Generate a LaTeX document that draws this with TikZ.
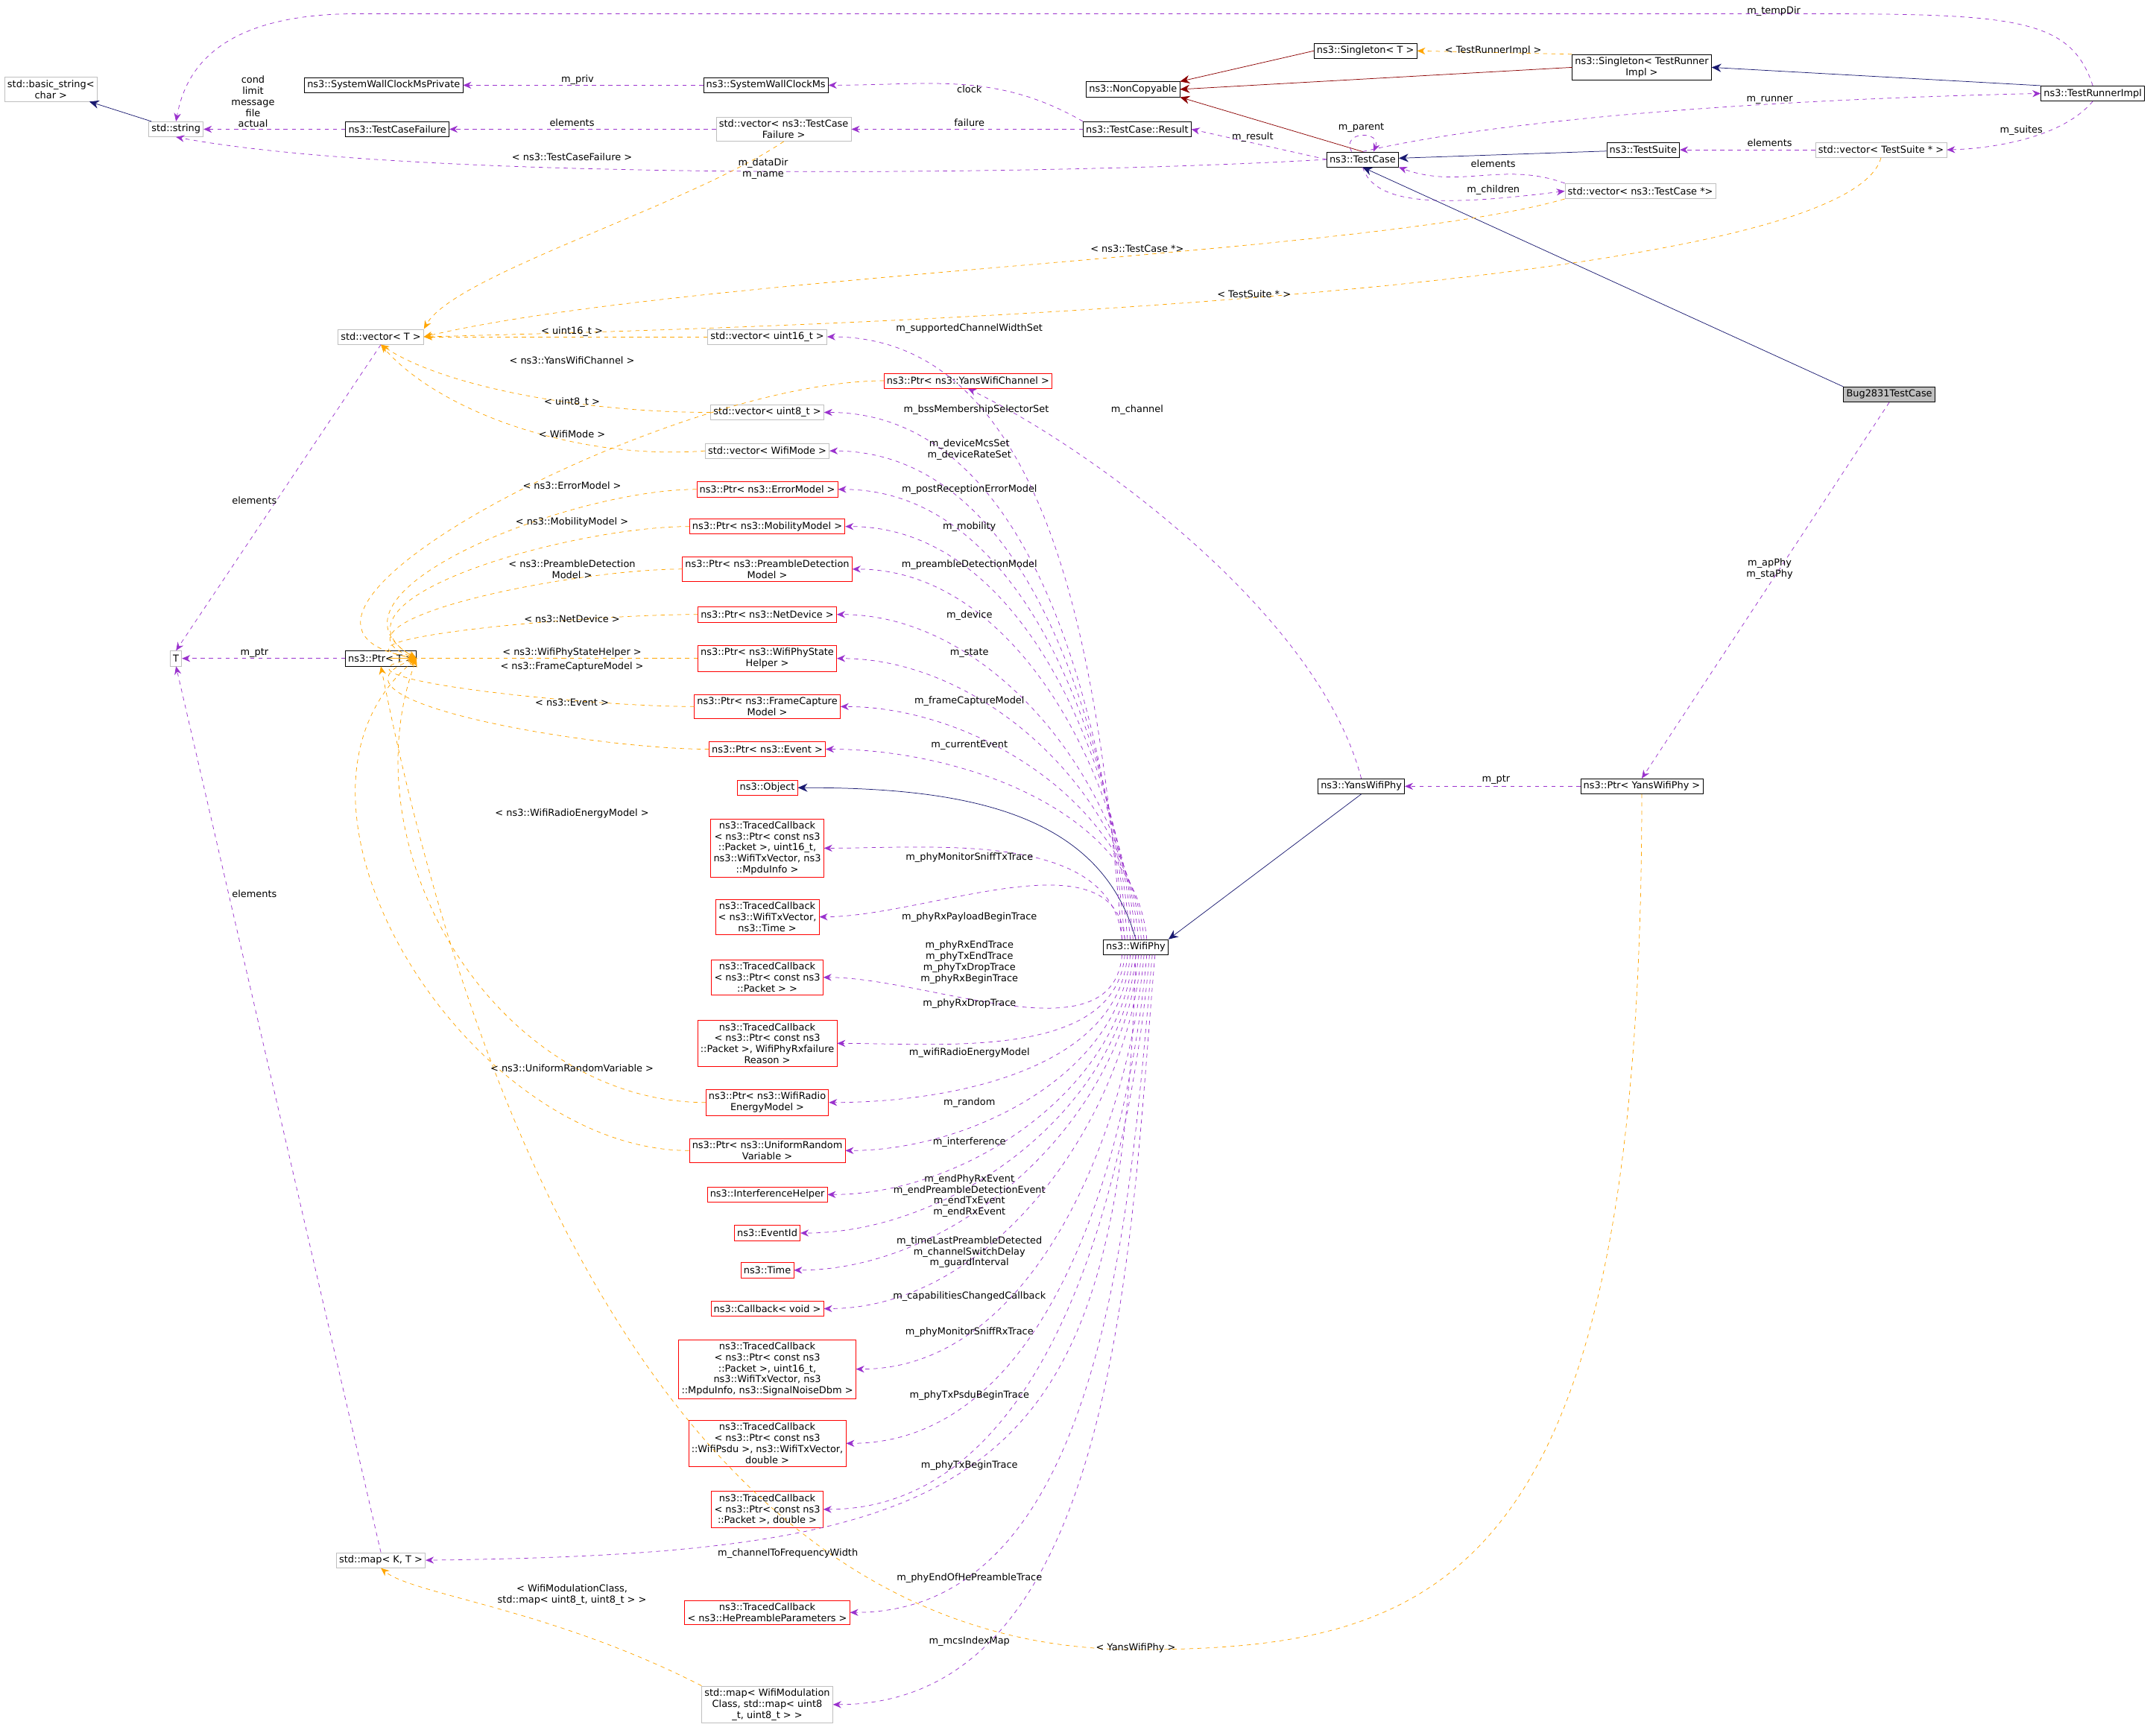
\documentclass[tikz,border=0pt]{standalone}
\usepackage{fontspec}
\setmainfont{DejaVu Sans}
\usetikzlibrary{arrows.meta}
\definecolor{pur}{HTML}{9A32CD}
\definecolor{org}{HTML}{FFA500}
\definecolor{mb}{HTML}{191970}
\definecolor{dr}{HTML}{8B0000}
\definecolor{gb}{HTML}{BFBFBF}
\begin{document}
\begin{tikzpicture}[x=1pt,y=-1pt,
  every node/.style={font=\fontsize{7}{8}\selectfont},
  bx/.style={draw=black,inner sep=2pt,minimum height=11pt,align=center,fill=white},
  gx/.style={bx,draw=gb},
  rx/.style={bx,draw=red},
  lb/.style={inner sep=0.5pt,align=center},
  usage/.style={draw=pur,dashed,-{Stealth[length=6pt,width=5pt]}},
  tmpl/.style={draw=org,dashed,-{Stealth[length=6pt,width=5pt]}},
  inh/.style={draw=mb,-{Stealth[length=7pt,width=6pt]}},
  priv/.style={draw=dr,-{Stealth[length=7pt,width=6pt]}}]
\useasboundingbox (0,0) rectangle (1568,1258);
% nodes
\node[gx] (bs) at (37,65) {std::basic\_string<\\ char >};
\node[gx] (str) at (128,94) {std::string};
\node[bx] (swp) at (279,62) {ns3::SystemWallClockMsPrivate};
\node[bx] (tcf) at (289,94) {ns3::TestCaseFailure};
\node[bx] (swc) at (557,62) {ns3::SystemWallClockMs};
\node[gx] (vtcf) at (570,94) {std::vector< ns3::TestCase\\ Failure >};
\node[bx] (nc) at (824,65) {ns3::NonCopyable};
\node[bx] (sgt) at (993,37) {ns3::Singleton< T >};
\node[bx] (sgr) at (1194,49) {ns3::Singleton< TestRunner\\ Impl >};
\node[bx] (tri) at (1522,68) {ns3::TestRunnerImpl};
\node[bx] (res) at (827,94) {ns3::TestCase::Result};
\node[bx] (tc) at (991,116) {ns3::TestCase};
\node[bx] (ts) at (1195,109) {ns3::TestSuite};
\node[gx] (vts) at (1368,109) {std::vector< TestSuite * >};
\node[gx] (vtc) at (1193,139) {std::vector< ns3::TestCase *>};
\node[bx,fill=gb] (bug) at (1374,287) {Bug2831TestCase};
\node[gx] (vT) at (277,245) {std::vector< T >};
\node[gx] (vu16) at (558,245) {std::vector< uint16\_t >};
\node[rx] (pyc) at (704,277) {ns3::Ptr< ns3::YansWifiChannel >};
\node[gx] (vu8) at (558,300) {std::vector< uint8\_t >};
\node[gx] (vwm) at (558,328) {std::vector< WifiMode >};
\node[rx] (perr) at (558,356) {ns3::Ptr< ns3::ErrorModel >};
\node[rx] (pmob) at (558,383) {ns3::Ptr< ns3::MobilityModel >};
\node[rx] (ppre) at (558,414) {ns3::Ptr< ns3::PreambleDetection\\ Model >};
\node[rx] (pnet) at (558,447) {ns3::Ptr< ns3::NetDevice >};
\node[rx] (pst) at (558,479) {ns3::Ptr< ns3::WifiPhyState\\ Helper >};
\node[rx] (pfc) at (558,514) {ns3::Ptr< ns3::FrameCapture\\ Model >};
\node[rx] (pev) at (558,545) {ns3::Ptr< ns3::Event >};
\node[rx] (obj) at (558,573) {ns3::Object};
\node[rx] (tc1) at (558,617) {ns3::TracedCallback\\ < ns3::Ptr< const ns3\\ ::Packet >, uint16\_t,\\ ns3::WifiTxVector, ns3\\ ::MpduInfo >};
\node[rx] (tc2) at (558,667) {ns3::TracedCallback\\ < ns3::WifiTxVector,\\ ns3::Time >};
\node[rx] (tc3) at (558,711) {ns3::TracedCallback\\ < ns3::Ptr< const ns3\\ ::Packet > >};
\node[rx] (tc4) at (558,759) {ns3::TracedCallback\\ < ns3::Ptr< const ns3\\ ::Packet >, WifiPhyRxfailure\\ Reason >};
\node[rx] (pen) at (558,802) {ns3::Ptr< ns3::WifiRadio\\ EnergyModel >};
\node[rx] (pur) at (558,837) {ns3::Ptr< ns3::UniformRandom\\ Variable >};
\node[rx] (ih) at (558,869) {ns3::InterferenceHelper};
\node[rx] (eid) at (558,897) {ns3::EventId};
\node[rx] (tm) at (558,924) {ns3::Time};
\node[rx] (cb) at (558,952) {ns3::Callback< void >};
\node[rx] (tc5) at (558,996) {ns3::TracedCallback\\ < ns3::Ptr< const ns3\\ ::Packet >, uint16\_t,\\ ns3::WifiTxVector, ns3\\ ::MpduInfo, ns3::SignalNoiseDbm >};
\node[rx] (tc6) at (558,1050) {ns3::TracedCallback\\ < ns3::Ptr< const ns3\\ ::WifiPsdu >, ns3::WifiTxVector,\\ double >};
\node[rx] (tc7) at (558,1098) {ns3::TracedCallback\\ < ns3::Ptr< const ns3\\ ::Packet >, double >};
\node[gx] (mkt) at (277,1135) {std::map< K, T >};
\node[rx] (tc8) at (558,1173) {ns3::TracedCallback\\ < ns3::HePreambleParameters >};
\node[gx] (mwm) at (558,1240) {std::map< WifiModulation\\ Class, std::map< uint8\\ \_t, uint8\_t > >};
\node[gx] (T) at (128,479) {T};
\node[bx] (ptrT) at (277,479) {ns3::Ptr< T >};
\node[bx] (ywp) at (990,572) {ns3::YansWifiPhy};
\node[bx] (pyw) at (1194,572) {ns3::Ptr< YansWifiPhy >};
\node[bx] (wp) at (826,689) {ns3::WifiPhy};

% top area edges
\draw[inh] (str) -- (bs);
\draw[usage] (swc) -- (swp);
\draw[usage] (tcf) -- (str);
\draw[usage] (vtcf) -- (tcf);
\draw[usage] (res) -- (vtcf);
\draw[usage] (res.north west) to[out=150,in=0] (swc.east);
\draw[usage] (tc.west) -- (res.east);
\draw[usage] (tc.west) .. controls (760,128) and (300,132) .. (str.south);
\draw[usage] ([xshift=-8]tc.north) .. controls (975,95) and (1005,95) .. ([xshift=8]tc.north);
\draw[usage] (tc.north) .. controls (1100,85) and (1300,72) .. (tri.west);
\draw[usage] (tri.north) .. controls (1505,10) and (1460,10) .. (1290,10) -- (260,10) .. controls (160,10) and (135,50) .. (str.north);
\draw[usage] (tri.south) .. controls (1500,100) and (1450,108) .. (vts.east);
\draw[usage] (vts) -- (ts);
\draw[usage] (vtc.north west) to[out=160,in=-20] (tc.south east);
\draw[usage] (tc.south) .. controls (1000,150) and (1050,150) .. (vtc.west);
\draw[priv] (tc.north) -- (nc.south east);
\draw[priv] (sgt.west) -- (nc.north east);
\draw[priv] (sgr.west) -- (nc.east);
\draw[tmpl] (sgr.north west) -- (sgt.east);
\draw[inh] (tri.north west) -- (sgr.east);
\draw[inh] (ts) -- (tc);
\draw[inh] (bug.north west) -- (tc.south);
\draw[usage] (bug.south) -- (pyw.north);
\draw[usage] (pyw) -- (ywp);
\draw[inh] (ywp.south) -- (wp.north east);
\draw[inh] (wp.north) .. controls (800,590) and (700,573) .. (obj.east);
\draw[usage] (ywp.north) .. controls (960,450) and (800,330) .. (pyc.south);
% vector<T> instances
\draw[tmpl] (vtcf.south) .. controls (500,150) and (330,200) .. (vT.north east);
\draw[tmpl] (vtc.south west) .. controls (1000,185) and (500,200) .. (vT.east);
\draw[tmpl] (vts.south) .. controls (1340,220) and (500,240) .. (vT.east);
\draw[tmpl] (vu16) -- (vT);
\draw[tmpl] (vu8.west) .. controls (420,300) and (320,280) .. (vT.south);
\draw[tmpl] (vwm.west) .. controls (420,335) and (320,300) .. (vT.south);
% Ptr<T> instances
\foreach \n/\o in {pyc/170,perr/150,pmob/150,ppre/160,pnet/170,pst/180,pfc/190,pev/200,pen/250,pur/220}
  \draw[tmpl] (\n.west) to[out=180,in=\o] (ptrT.east);
\draw[tmpl] (pyw.south) .. controls (1194,1150) and (1050,1200) .. (826,1200) .. controls (450,1200) and (320,700) .. (ptrT.south);
\draw[tmpl] (mwm.north west) .. controls (400,1170) and (300,1160) .. (mkt.south);
\draw[usage] (vT.south) -- (T.north);
\draw[usage] (ptrT) -- (T);
\draw[usage] (mkt.north) -- (T.south);
% WifiPhy usage edges
\foreach \n/\dx in {vu16/-10,vu8/-8,vwm/-6,perr/-4,pmob/-2,ppre/0,pnet/2,pst/4,pfc/6,pev/8,tc1/-10,tc2/-8}
  \draw[usage] ([xshift=\dx]wp.north) to[out=95,in=0,looseness=0.9] (\n.east);
\foreach \n/\dx in {tc3/-10,tc4/-8,pen/-6,pur/-4,ih/-2,eid/0,tm/2,cb/4,tc5/6,tc6/8,tc7/10,tc8/12,mwm/14}
  \draw[usage] ([xshift=\dx]wp.south) to[out=-95,in=0,looseness=0.9] (\n.east);
\draw[usage] (wp.south) .. controls (815,1080) and (720,1130) .. (mkt.east);
% labels
\node[lb] (l1) at (705,239) {m\_supportedChannelWidthSet};
\node[lb] (l2) at (827,298) {m\_channel};
\node[lb] (l3) at (710,298) {m\_bssMembershipSelectorSet};
\node[lb] (l4) at (705,327) {m\_deviceMcsSet\\m\_deviceRateSet};
\node[lb] (l5) at (705,356) {m\_postReceptionErrorModel};
\node[lb] (l6) at (705,383) {m\_mobility};
\node[lb] (l7) at (705,411) {m\_preambleDetectionModel};
\node[lb] (l8) at (705,448) {m\_device};
\node[lb] (l9) at (705,475) {m\_state};
\node[lb] (l10) at (705,510) {m\_frameCaptureModel};
\node[lb] (l11) at (705,542) {m\_currentEvent};
\node[lb] (l12) at (705,624) {m\_phyMonitorSniffTxTrace};
\node[lb] (l13) at (705,667) {m\_phyRxPayloadBeginTrace};
\node[lb] (l14) at (705,700) {m\_phyRxEndTrace\\m\_phyTxEndTrace\\m\_phyTxDropTrace\\m\_phyRxBeginTrace};
\node[lb] (l15) at (705,730) {m\_phyRxDropTrace};
\node[lb] (l16) at (705,766) {m\_wifiRadioEnergyModel};
\node[lb] (l17) at (705,802) {m\_random};
\node[lb] (l18) at (705,831) {m\_interference};
\node[lb] (l19) at (705,870) {m\_endPhyRxEvent\\m\_endPreambleDetectionEvent\\m\_endTxEvent\\m\_endRxEvent};
\node[lb] (l20) at (705,911) {m\_timeLastPreambleDetected\\m\_channelSwitchDelay\\m\_guardInterval};
\node[lb] (l21) at (705,943) {m\_capabilitiesChangedCallback};
\node[lb] (l22) at (705,969) {m\_phyMonitorSniffRxTrace};
\node[lb] (l23) at (705,1015) {m\_phyTxPsduBeginTrace};
\node[lb] (l24) at (705,1066) {m\_phyTxBeginTrace};
\node[lb] (l25) at (573,1130) {m\_channelToFrequencyWidth};
\node[lb] (l26) at (705,1148) {m\_phyEndOfHePreambleTrace};
\node[lb] (l27) at (705,1194) {m\_mcsIndexMap};
\node[lb] (k1) at (416,241) {< uint16\_t >};
\node[lb] (k2) at (416,293) {< uint8\_t >};
\node[lb] (k3) at (416,316) {< WifiMode >};
\node[lb] (k4) at (416,114) {< ns3::TestCaseFailure >};
\node[lb] (k5) at (827,181) {< ns3::TestCase *>};
\node[lb] (k6) at (912,214) {< TestSuite * >};
\node[lb] (k7) at (416,262) {< ns3::YansWifiChannel >};
\node[lb] (k8) at (416,353) {< ns3::ErrorModel >};
\node[lb] (k9) at (416,380) {< ns3::MobilityModel >};
\node[lb] (k10) at (416,414) {< ns3::PreambleDetection\\ Model >};
\node[lb] (k11) at (416,450) {< ns3::NetDevice >};
\node[lb] (k12) at (416,475) {< ns3::WifiPhyStateHelper >};
\node[lb] (k13) at (416,485) {< ns3::FrameCaptureModel >};
\node[lb] (k14) at (416,511) {< ns3::Event >};
\node[lb] (k15) at (416,592) {< ns3::WifiRadioEnergyModel >};
\node[lb] (k16) at (416,777) {< ns3::UniformRandomVariable >};
\node[lb] (k17) at (826,1199) {< YansWifiPhy >};
\node[lb] (k18) at (416,1160) {< WifiModulationClass,\\ std::map< uint8\_t, uint8\_t > >};
\node[lb] (e1) at (420,58) {m\_priv};
\node[lb] (e2) at (184,74) {cond\\limit\\message\\file\\actual};
\node[lb] (e3) at (416,89) {elements};
\node[lb] (e4) at (705,89) {failure};
\node[lb] (e5) at (705,65) {clock};
\node[lb] (e6) at (911,100) {m\_result};
\node[lb] (e7) at (555,123) {m\_dataDir\\m\_name};
\node[lb] (e8) at (990,93) {m\_parent};
\node[lb] (e9) at (1287,73) {m\_runner};
\node[lb] (e10) at (1290,8) {m\_tempDir};
\node[lb] (e11) at (1470,95) {m\_suites};
\node[lb] (e12) at (1287,104) {elements};
\node[lb] (e13) at (1086,119) {elements};
\node[lb] (e14) at (1086,138) {m\_children};
\node[lb] (e15) at (1086,37) {< TestRunnerImpl >};
\node[lb] (e16) at (1287,414) {m\_apPhy\\m\_staPhy};
\node[lb] (e17) at (1088,567) {m\_ptr};
\node[lb] (e18) at (185,364) {elements};
\node[lb] (e19) at (185,475) {m\_ptr};
\node[lb] (e20) at (185,650) {elements};
\end{tikzpicture}
\end{document}
